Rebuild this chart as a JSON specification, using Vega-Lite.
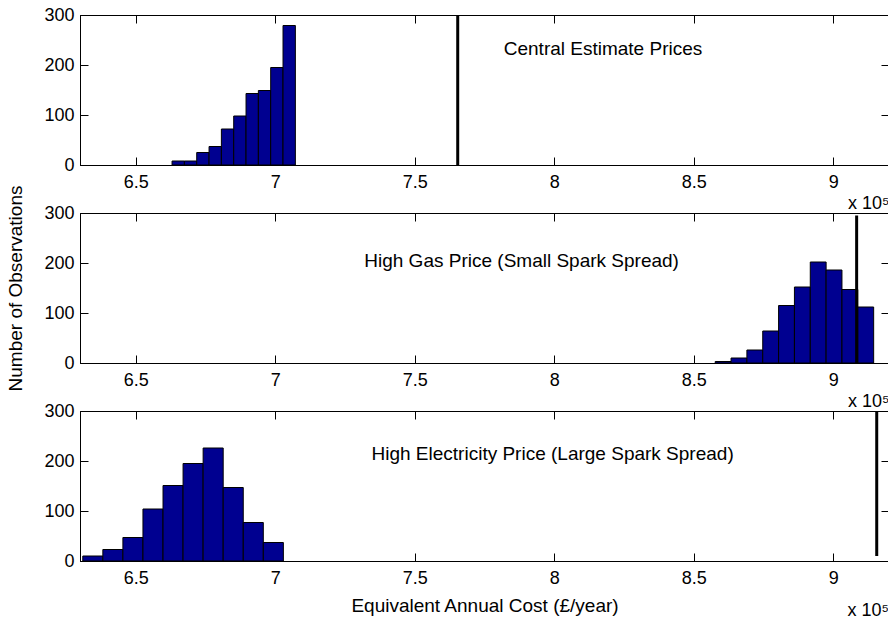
{
  "$schema": "https://vega.github.io/schema/vega-lite/v6.json",
  "background": "white",
  "padding": {"left": 6, "top": 5, "right": 0, "bottom": 0},
  "bounds": "flush",
  "spacing": 48,
  "config": {
    "font": "Liberation Sans",
    "view": {"stroke": "black", "strokeWidth": 1},
    "axis": {
      "domainColor": "black", "tickColor": "black", "labelColor": "black", "titleColor": "black",
      "labelFont": "Liberation Sans", "titleFont": "Liberation Sans",
      "labelFontSize": 18, "titleFontSize": 19, "titleFontWeight": "normal",
      "grid": false, "tickSize": -8, "domainWidth": 1, "tickWidth": 1, "labelFlush": false
    },
    "text": {"font": "Liberation Sans"}
  },
  "datasets": {
    "bins": [
      {"panel": 1, "bin_start": 663000, "bin_end": 667420, "count": 8},
      {"panel": 1, "bin_start": 667420, "bin_end": 671840, "count": 8},
      {"panel": 1, "bin_start": 671840, "bin_end": 676260, "count": 25},
      {"panel": 1, "bin_start": 676260, "bin_end": 680680, "count": 37},
      {"panel": 1, "bin_start": 680680, "bin_end": 685100, "count": 72},
      {"panel": 1, "bin_start": 685100, "bin_end": 689520, "count": 98},
      {"panel": 1, "bin_start": 689520, "bin_end": 693940, "count": 143},
      {"panel": 1, "bin_start": 693940, "bin_end": 698360, "count": 149},
      {"panel": 1, "bin_start": 698360, "bin_end": 702780, "count": 195},
      {"panel": 1, "bin_start": 702780, "bin_end": 707200, "count": 279},
      {"panel": 2, "bin_start": 857700, "bin_end": 863380, "count": 3},
      {"panel": 2, "bin_start": 863380, "bin_end": 869060, "count": 10},
      {"panel": 2, "bin_start": 869060, "bin_end": 874740, "count": 26},
      {"panel": 2, "bin_start": 874740, "bin_end": 880420, "count": 64},
      {"panel": 2, "bin_start": 880420, "bin_end": 886100, "count": 115},
      {"panel": 2, "bin_start": 886100, "bin_end": 891780, "count": 152},
      {"panel": 2, "bin_start": 891780, "bin_end": 897460, "count": 202},
      {"panel": 2, "bin_start": 897460, "bin_end": 903140, "count": 186},
      {"panel": 2, "bin_start": 903140, "bin_end": 908820, "count": 147},
      {"panel": 2, "bin_start": 908820, "bin_end": 914500, "count": 112},
      {"panel": 3, "bin_start": 631000, "bin_end": 638190, "count": 10},
      {"panel": 3, "bin_start": 638190, "bin_end": 645380, "count": 23},
      {"panel": 3, "bin_start": 645380, "bin_end": 652570, "count": 47},
      {"panel": 3, "bin_start": 652570, "bin_end": 659760, "count": 104},
      {"panel": 3, "bin_start": 659760, "bin_end": 666950, "count": 151},
      {"panel": 3, "bin_start": 666950, "bin_end": 674140, "count": 195},
      {"panel": 3, "bin_start": 674140, "bin_end": 681330, "count": 226},
      {"panel": 3, "bin_start": 681330, "bin_end": 688520, "count": 147},
      {"panel": 3, "bin_start": 688520, "bin_end": 695710, "count": 77},
      {"panel": 3, "bin_start": 695710, "bin_end": 702900, "count": 37}
    ],
    "lines": [
      {"panel": 1, "x": 765400, "y_low": 0, "y_high": 300},
      {"panel": 2, "x": 908400, "y_low": 0, "y_high": 295},
      {"panel": 3, "x": 915600, "y_low": 10, "y_high": 300}
    ],
    "labels": [
      {"panel": 1, "x": 781900, "y": 232, "label": "Central Estimate Prices"},
      {"panel": 2, "x": 731900, "y": 205, "label": "High Gas Price (Small Spark Spread)"},
      {"panel": 3, "x": 734500, "y": 214, "label": "High Electricity Price (Large Spark Spread)"}
    ],
    "exponent": [
      {"panel": 3, "x": 920000, "y": 0, "label": "x 10⁵"}
    ]
  },
  "vconcat": [
    {
      "width": 809, "height": 150,
      "layer": [
        {
          "data": {"name": "bins"},
          "transform": [{"filter": "datum.panel == 1"}],
          "mark": {"type": "rect", "fill": "#000090", "stroke": "black", "strokeWidth": 1},
          "encoding": {
            "x": {"field": "bin_start", "type": "quantitative",
              "scale": {"domain": [630000, 920000], "nice": false, "zero": false},
              "axis": {"orient": "bottom", "values": [650000, 700000, 750000, 800000, 850000, 900000],
                "labelExpr": "datum.value / 100000", "labelPadding": 16,
                "title": "x 10⁵", "titleAnchor": "end", "titleAlign": "right", "titlePadding": 3, "titleFontSize": 18}},
            "x2": {"field": "bin_end"},
            "y": {"field": "count", "type": "quantitative",
              "scale": {"domain": [0, 300], "nice": false},
              "axis": {"orient": "left", "values": [0, 100, 200, 300], "labelPadding": 14, "title": null}},
            "y2": {"datum": 0}
          }
        },
        {
          "data": {"name": "lines"},
          "transform": [{"filter": "datum.panel == 1"}],
          "mark": {"type": "rule", "strokeWidth": 3, "color": "black"},
          "encoding": {
            "x": {"field": "x", "type": "quantitative",
              "axis": {"orient": "top", "labels": false, "title": null, "values": [650000, 700000, 750000, 800000, 850000, 900000]}},
            "y": {"field": "y_low", "type": "quantitative",
              "axis": {"orient": "right", "labels": false, "title": null, "values": [0, 100, 200, 300]}},
            "y2": {"field": "y_high"}
          }
        },
        {
          "data": {"name": "labels"},
          "transform": [{"filter": "datum.panel == 1"}],
          "mark": {"type": "text", "align": "left", "baseline": "middle", "fontSize": 19, "color": "black"},
          "encoding": {
            "x": {"field": "x", "type": "quantitative", "axis": null},
            "y": {"field": "y", "type": "quantitative", "axis": null},
            "text": {"field": "label"}
          }
        }
      ]
    },
    {
      "width": 809, "height": 150,
      "layer": [
        {
          "data": {"name": "bins"},
          "transform": [{"filter": "datum.panel == 2"}],
          "mark": {"type": "rect", "fill": "#000090", "stroke": "black", "strokeWidth": 1},
          "encoding": {
            "x": {"field": "bin_start", "type": "quantitative",
              "scale": {"domain": [630000, 920000], "nice": false, "zero": false},
              "axis": {"orient": "bottom", "values": [650000, 700000, 750000, 800000, 850000, 900000],
                "labelExpr": "datum.value / 100000", "labelPadding": 16,
                "title": "x 10⁵", "titleAnchor": "end", "titleAlign": "right", "titlePadding": 3, "titleFontSize": 18}},
            "x2": {"field": "bin_end"},
            "y": {"field": "count", "type": "quantitative",
              "scale": {"domain": [0, 300], "nice": false},
              "axis": {"orient": "left", "values": [0, 100, 200, 300], "labelPadding": 14,
                "title": "Number of Observations", "titlePadding": 18}},
            "y2": {"datum": 0}
          }
        },
        {
          "data": {"name": "lines"},
          "transform": [{"filter": "datum.panel == 2"}],
          "mark": {"type": "rule", "strokeWidth": 3, "color": "black"},
          "encoding": {
            "x": {"field": "x", "type": "quantitative",
              "axis": {"orient": "top", "labels": false, "title": null, "values": [650000, 700000, 750000, 800000, 850000, 900000]}},
            "y": {"field": "y_low", "type": "quantitative",
              "axis": {"orient": "right", "labels": false, "title": null, "values": [0, 100, 200, 300]}},
            "y2": {"field": "y_high"}
          }
        },
        {
          "data": {"name": "labels"},
          "transform": [{"filter": "datum.panel == 2"}],
          "mark": {"type": "text", "align": "left", "baseline": "middle", "fontSize": 19, "color": "black"},
          "encoding": {
            "x": {"field": "x", "type": "quantitative", "axis": null},
            "y": {"field": "y", "type": "quantitative", "axis": null},
            "text": {"field": "label"}
          }
        }
      ]
    },
    {
      "width": 809, "height": 150,
      "layer": [
        {
          "data": {"name": "bins"},
          "transform": [{"filter": "datum.panel == 3"}],
          "mark": {"type": "rect", "fill": "#000090", "stroke": "black", "strokeWidth": 1},
          "encoding": {
            "x": {"field": "bin_start", "type": "quantitative",
              "scale": {"domain": [630000, 920000], "nice": false, "zero": false},
              "axis": {"orient": "bottom", "values": [650000, 700000, 750000, 800000, 850000, 900000],
                "labelExpr": "datum.value / 100000", "labelPadding": 16,
                "title": "Equivalent Annual Cost (£/year)", "titlePadding": 9}},
            "x2": {"field": "bin_end"},
            "y": {"field": "count", "type": "quantitative",
              "scale": {"domain": [0, 300], "nice": false},
              "axis": {"orient": "left", "values": [0, 100, 200, 300], "labelPadding": 14, "title": null}},
            "y2": {"datum": 0}
          }
        },
        {
          "data": {"name": "lines"},
          "transform": [{"filter": "datum.panel == 3"}],
          "mark": {"type": "rule", "strokeWidth": 3, "color": "black"},
          "encoding": {
            "x": {"field": "x", "type": "quantitative",
              "axis": {"orient": "top", "labels": false, "title": null, "values": [650000, 700000, 750000, 800000, 850000, 900000]}},
            "y": {"field": "y_low", "type": "quantitative",
              "axis": {"orient": "right", "labels": false, "title": null, "values": [0, 100, 200, 300]}},
            "y2": {"field": "y_high"}
          }
        },
        {
          "data": {"name": "labels"},
          "transform": [{"filter": "datum.panel == 3"}],
          "mark": {"type": "text", "align": "left", "baseline": "middle", "fontSize": 19, "color": "black"},
          "encoding": {
            "x": {"field": "x", "type": "quantitative", "axis": null},
            "y": {"field": "y", "type": "quantitative", "axis": null},
            "text": {"field": "label"}
          }
        },
        {
          "data": {"name": "exponent"},
          "mark": {"type": "text", "align": "right", "baseline": "top", "dy": 41, "fontSize": 18, "color": "black"},
          "encoding": {
            "x": {"field": "x", "type": "quantitative", "axis": null},
            "y": {"field": "y", "type": "quantitative", "axis": null},
            "text": {"field": "label"}
          }
        }
      ]
    }
  ]
}
